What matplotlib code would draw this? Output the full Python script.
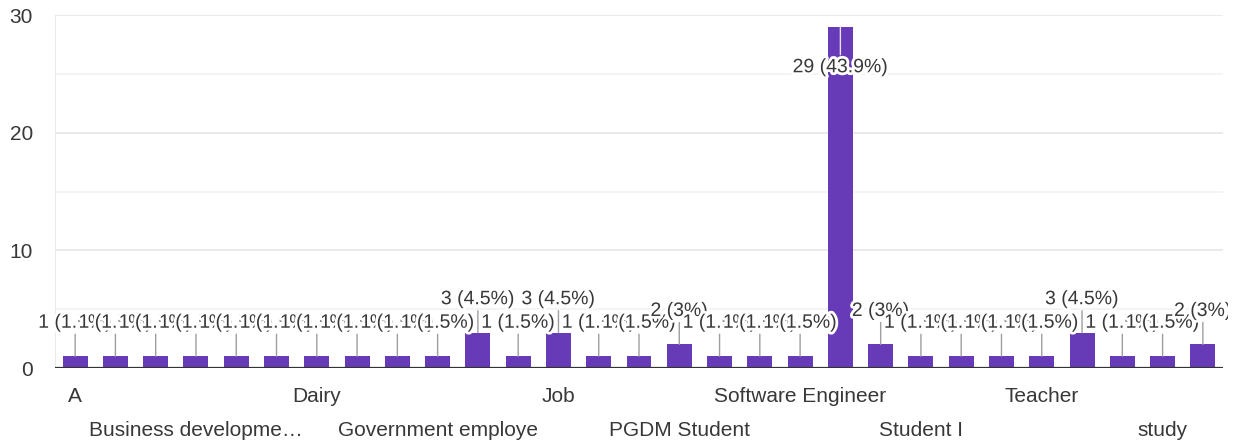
import matplotlib
matplotlib.use("Agg")
import matplotlib.pyplot as plt
import matplotlib.patheffects as pe
from matplotlib.transforms import blended_transform_factory, Bbox, TransformedBbox, IdentityTransform

plt.rcParams['font.family'] = ['Liberation Sans', 'DejaVu Sans']

# Occupation responses (sorted as listed in the form summary)
categories = [
    "A", "Accountant", "Banker", "Business developme…", "Business man",
    "CA", "Dairy", "Doctor", "Engineer", "Government employe",
    "Housewife", "IT professional", "Job", "Lawyer", "Manager",
    "PGDM Student", "Private job", "Self employed", "Software Engineer",
    "Student", "Student ", "Student I", "Student of MBA", "Studying",
    "Teacher", "Unemployed", "Working", "study", "student",
]
counts = [1, 1, 1, 1, 1, 1, 1, 1, 1, 1,
          3, 1, 3, 1, 1, 2, 1, 1, 1, 29,
          2, 1, 1, 1, 1, 3, 1, 1, 2]
y_ticks = [0, 10, 20, 30]
y_minor = [5, 15, 25]

total = sum(counts)
bar_color = "#673ab7"
text_color = "#383838"

fig = plt.figure(figsize=(12.35, 4.45), dpi=100)
ax = fig.add_axes([55 / 1235, 77 / 445, 1168 / 1235, 353 / 445])

x = list(range(len(categories)))
ax.bar(x, counts, width=0.62, color=bar_color, zorder=2)

ax.set_xlim(-0.5, len(categories) - 0.5)
ax.set_ylim(0, 30)

# grid
for v in y_ticks[1:]:
    ax.axhline(v, color="#e6e6e6", lw=1.2, zorder=0)
for v in y_minor:
    ax.axhline(v, color="#f2f2f2", lw=1.2, zorder=0)
ax.axvline(-0.5, color="#e6e6e6", lw=1.2, zorder=0)
ax.axhline(0, color="#333333", lw=1.6, zorder=3)

for s in ax.spines.values():
    s.set_visible(False)
ax.set_xticks([])
ax.set_yticks(y_ticks)
ax.set_yticklabels([str(v) for v in y_ticks], fontsize=15, color=text_color)
ax.tick_params(axis="y", length=0, pad=16)

# category labels: every third category, alternating between two rows
trans = blended_transform_factory(ax.transData, ax.transAxes)
for k, i in enumerate(range(0, len(categories), 3)):
    off = -28 if k % 2 == 0 else -62
    ax.annotate(categories[i], xy=(i, 0), xycoords=trans,
                xytext=(0, off), textcoords="offset pixels",
                ha="center", va="center", fontsize=15, color=text_color,
                annotation_clip=False)

# value labels are clipped to the chart frame on the right
clip = TransformedBbox(Bbox([[0, 0], [1228, 445]]), IdentityTransform())

# value labels with leader lines
halo = [pe.withStroke(linewidth=4, foreground="white")]
for i, v in enumerate(counts):
    pct = round(100 * v / total, 1)
    label = f"{v} ({pct:g}%)"
    if v > 20:
        ax.annotate("", xy=(i, v), xytext=(0, -28), textcoords="offset pixels",
                    arrowprops=dict(arrowstyle="-", color="#e8e0f5", lw=1,
                                    shrinkA=0, shrinkB=0), zorder=4)
        t = ax.annotate(label, xy=(i, v), xytext=(0, -41),
                        textcoords="offset pixels", ha="center", va="center",
                        fontsize=14, color=text_color, path_effects=halo,
                        zorder=5 + i)
    else:
        ax.annotate("", xy=(i, v), xytext=(0, 22), textcoords="offset pixels",
                    arrowprops=dict(arrowstyle="-", color="#9e9e9e", lw=1,
                                    shrinkA=0, shrinkB=0), zorder=4)
        t = ax.annotate(label, xy=(i, v), xytext=(0, 33),
                        textcoords="offset pixels", ha="center", va="center",
                        fontsize=14, color=text_color, path_effects=halo,
                        zorder=5 + i, annotation_clip=False)
    t.set_clip_box(clip)
    t.set_clip_on(True)

fig.savefig("out.png", dpi=100, facecolor="white")
